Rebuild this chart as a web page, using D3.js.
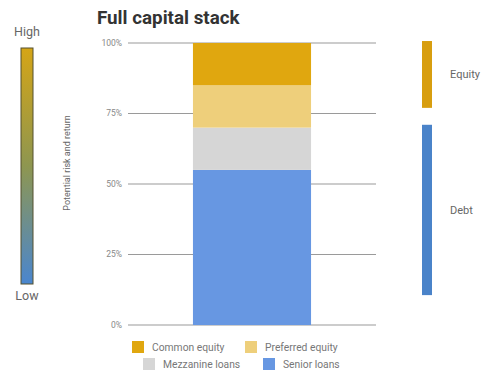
<!DOCTYPE html>
<html><head><meta charset="utf-8">
<script src="https://cdn.jsdelivr.net/npm/d3@7"></script>
<style>body{margin:0;background:#fff}svg{display:block;font-family:Roboto,"Open Sans",sans-serif}</style>
</head><body><svg id="c" width="490" height="372"></svg>
<script>
const categories = ["Full capital stack"];
const seriesNames = ["Senior loans", "Mezzanine loans", "Preferred equity", "Common equity"];
const seriesValues = [55, 15, 15, 15];
const seriesColors = ["#6797e2", "#d6d6d6", "#eecf7b", "#e0a70f"];
const yTicks = [0, 25, 50, 75, 100];
const tickLabels = ["0%", "25%", "50%", "75%", "100%"];
const groupNames = ["Equity", "Debt"];
const groupRanges = [[77, 100.7], [10.6, 71]];
const groupColors = ["#d89e0f", "#4a83c9"];
const legendOrder = ["Common equity", "Preferred equity", "Mezzanine loans", "Senior loans"];

const svg = d3.select("#c");
const y = d3.scaleLinear().domain([0, 100]).range([325, 43]);
const x = d3.scaleBand().domain(categories).range([128, 376]).paddingInner(0).paddingOuter(0.55);

// title
svg.append("text").attr("x", 97).attr("y", 24).attr("font-size", 18.8).attr("font-weight", "bold")
  .attr("fill", "#333").text(categories[0]);

// gridlines + tick labels
const g = svg.append("g");
g.selectAll("line.grid").data(yTicks).join("line")
  .attr("x1", 128).attr("x2", 376).attr("y1", d => y(d)).attr("y2", d => y(d))
  .attr("stroke", "#9a9a9a").attr("stroke-width", 1.2);
g.selectAll("text.tick").data(yTicks).join("text")
  .attr("x", 122).attr("y", d => y(d)).attr("dy", "0.35em").attr("text-anchor", "end")
  .attr("font-size", 8.5).attr("fill", "#888").text((d, i) => tickLabels[i]);

// stacked bar
const row = {}; seriesNames.forEach((n, i) => row[n] = seriesValues[i]);
const stack = d3.stack().keys(seriesNames)([row]);
svg.append("g").selectAll("rect").data(stack).join("rect")
  .attr("x", x(categories[0])).attr("width", x.bandwidth())
  .attr("y", d => y(d[0][1])).attr("height", d => y(d[0][0]) - y(d[0][1]))
  .attr("fill", (d, i) => seriesColors[i]);

// left gradient
const defs = svg.append("defs");
const lg = defs.append("linearGradient").attr("id", "rg").attr("x1", 0).attr("x2", 0).attr("y1", 0).attr("y2", 1);
lg.append("stop").attr("offset", "0%").attr("stop-color", "#d5a516");
lg.append("stop").attr("offset", "50%").attr("stop-color", "#8e9650");
lg.append("stop").attr("offset", "100%").attr("stop-color", "#4a86cf");
svg.append("rect").attr("x", 21).attr("y", 48).attr("width", 12).attr("height", 236)
  .attr("fill", "url(#rg)").attr("stroke", "#55502f").attr("stroke-width", 1);
svg.append("text").attr("x", 27).attr("y", 36).attr("text-anchor", "middle").attr("font-size", 12.5).attr("fill", "#666").text("High");
svg.append("text").attr("x", 27).attr("y", 300).attr("text-anchor", "middle").attr("font-size", 12.5).attr("fill", "#666").text("Low");
svg.append("text").attr("transform", "translate(70,163) rotate(-90)").attr("text-anchor", "middle")
  .attr("font-size", 9).attr("fill", "#666").text("Potential risk and return");

// right group bars
groupNames.forEach((n, i) => {
  const r = groupRanges[i];
  svg.append("rect").attr("x", 422).attr("width", 10)
    .attr("y", y(r[1])).attr("height", y(r[0]) - y(r[1])).attr("fill", groupColors[i]);
  svg.append("text").attr("x", 450).attr("y", (y(r[0]) + y(r[1])) / 2).attr("dy", "0.35em")
    .attr("font-size", 11).attr("fill", "#666").text(n);
});

// legend
const legPos = [[132, 347], [245, 347], [143, 364], [263, 364]];
const lgG = svg.append("g");
legendOrder.forEach((n, i) => {
  const ci = seriesNames.indexOf(n);
  const [lx, ly] = legPos[i];
  lgG.append("rect").attr("x", lx).attr("y", ly - 6).attr("width", 12).attr("height", 12).attr("fill", seriesColors[ci]);
  lgG.append("text").attr("x", lx + 20).attr("y", ly).attr("dy", "0.35em").attr("font-size", 10.3).attr("fill", "#777").text(n);
});
</script></body></html>
